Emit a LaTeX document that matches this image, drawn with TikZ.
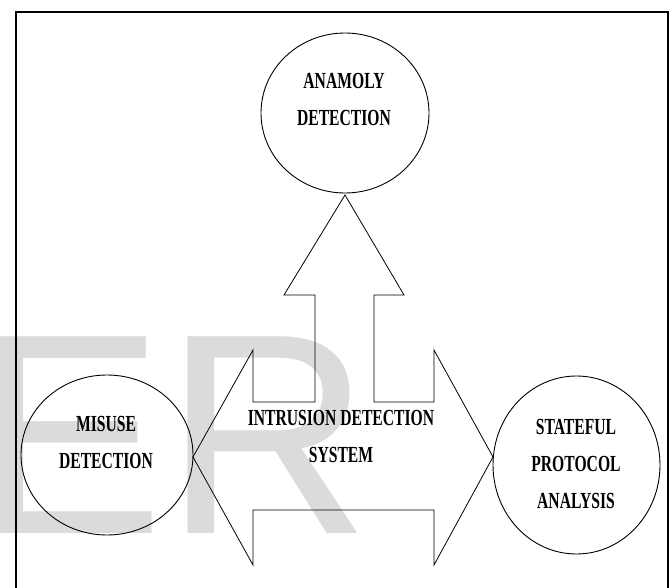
\documentclass[tikz,border=0pt]{standalone}
\usepackage{fontspec}
\usetikzlibrary{shapes.geometric}
\newfontfamily\lblfont[FakeStretch=0.68]{Liberation Serif}
\newfontfamily\wmfont{Liberation Sans}
\begin{document}
\begin{tikzpicture}[x=1pt,y=-1pt,
  bubble/.style={draw, ellipse, line width=0.9pt, inner sep=0pt},
  lbl/.style={font=\lblfont\bfseries\fontsize{23}{37}\selectfont, align=center, inner sep=0pt},
  wm/.style={font=\wmfont\fontsize{286}{286}\selectfont, text=black!14, inner sep=0pt, anchor=base west},
  bigarrow/.style={draw, line width=0.8pt, line join=miter}
]
\useasboundingbox (0,0) rectangle (670,588);
\clip (0,0) rectangle (670,588);
% watermark
\node[wm] (wmE) at (-27,533) {E};
\node[wm] (wmR) at (164,533) {R};
% frame
\draw[line width=1.2pt] (16,600) -- (16,12) -- (668,12) -- (668,600);
% ellipses
\node[bubble, minimum width=168pt, minimum height=160pt] (anom) at (345,113) {};
\node[bubble, minimum width=172pt, minimum height=160pt] (mis) at (107,455) {};
\node[bubble, minimum width=167pt, minimum height=178pt] (stat) at (576.5,465) {};
% big three-headed arrow
\coordinate (tipU) at (345,195);
\coordinate (tipL) at (193,457);
\coordinate (tipR) at (493,457);
\draw[bigarrow] (tipU) -- (404,295) -- (374,295) -- (374,402) -- (434,402) -- (434,350)
  -- (tipR) -- (434,565) -- (434,510) -- (253,510) -- (253,565) -- (tipL)
  -- (253,350) -- (253,402) -- (315,402) -- (315,295) -- (284,295) -- cycle;
% labels
\node[lbl] (tA) at (344,99.4) {ANAMOLY\\DETECTION};
\node[lbl] (tM) at (106,442.5) {MISUSE\\DETECTION};
\node[lbl] (tI) at (341,436) {INTRUSION DETECTION\\SYSTEM};
\node[lbl] (tS) at (576,464) {STATEFUL\\PROTOCOL\\ANALYSIS};
\end{tikzpicture}
\end{document}
